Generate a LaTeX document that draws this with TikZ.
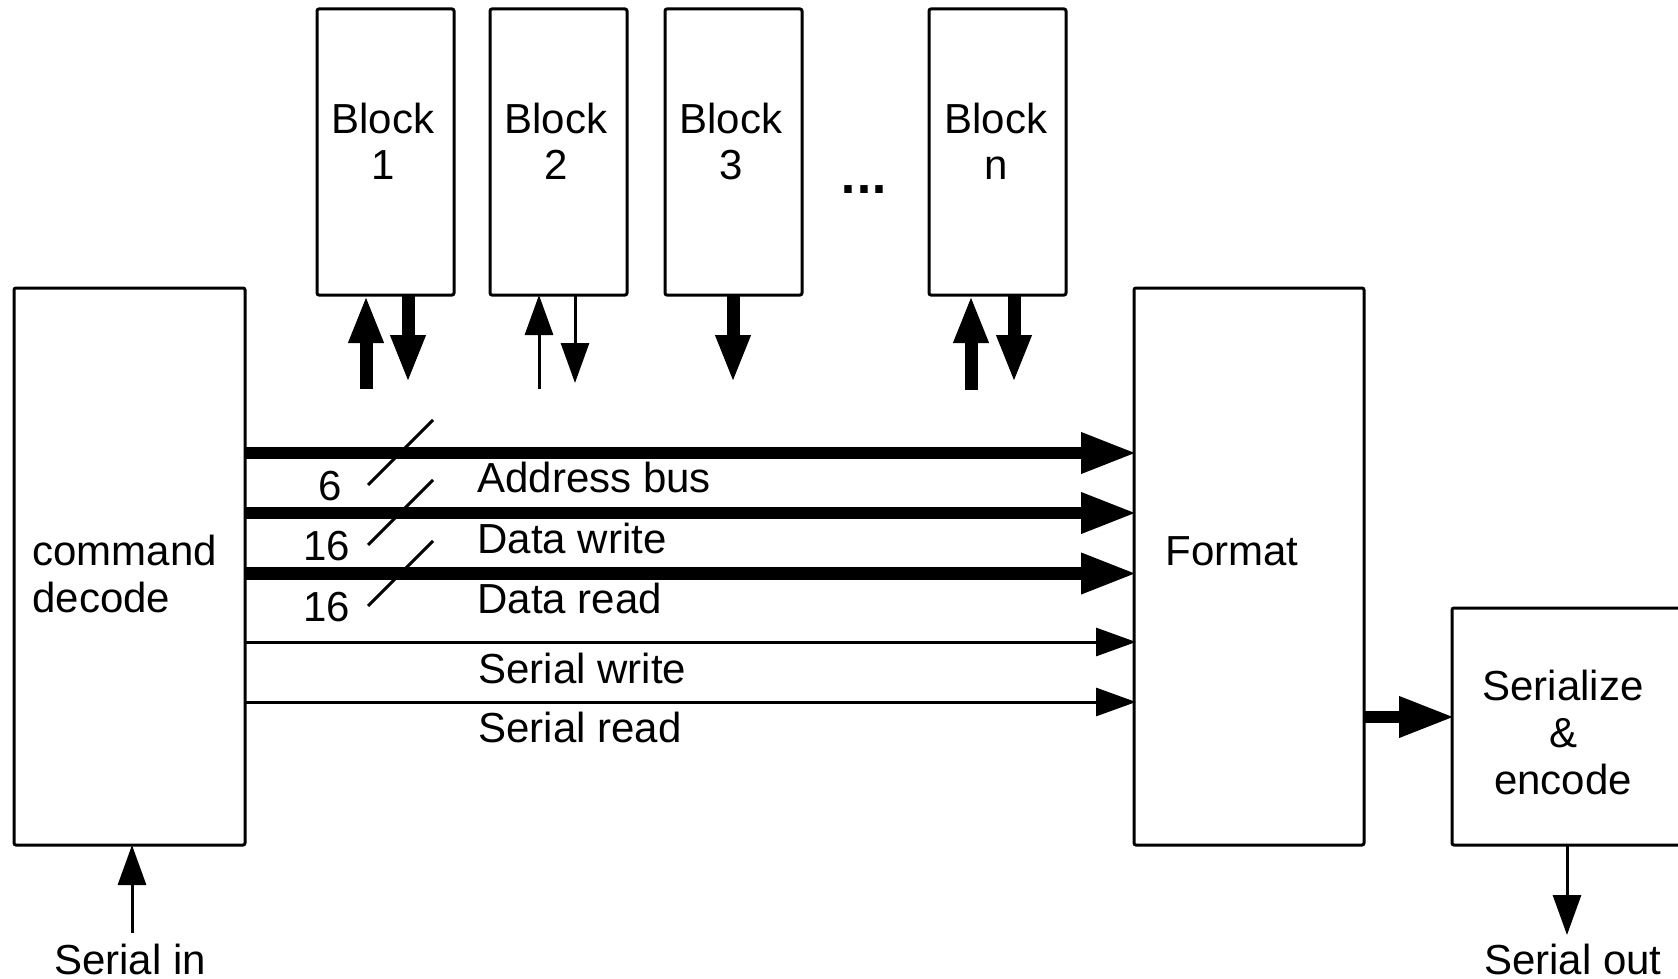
\documentclass[tikz,border=0pt]{standalone}
\usepackage{fontspec}
\setmainfont{Liberation Sans}
\newfontfamily\dotsfont{DejaVu Sans}
\usetikzlibrary{arrows.meta,calc}

\begin{document}
\begin{tikzpicture}[x=0.5pt,y=-0.5pt,
  box/.style={draw, line width=1.5pt, rectangle, inner sep=0pt, outer sep=0pt, rounded corners=1pt},
  txt/.style={inner sep=0pt, font=\fontsize{21}{23.5}\selectfont},
  bus/.style={line width=6.25pt, shorten >=-1.5pt, -{Triangle[length=28pt,width=19pt]}},
  vbus/.style={line width=6.5pt, -{Triangle[length=24pt,width=16pt]}},
  wire/.style={line width=1.5pt, -{Triangle[length=20pt,width=14pt]}},
  hwire/.style={wire, shorten >=-1pt},
  slash/.style={line width=1.5pt},
]
\useasboundingbox (0,0) rectangle (1678,979);

% main boxes
\node[box, minimum width=115.5pt, minimum height=278.5pt] (cmd) at (129.5,566.5) {};
\node[box, minimum width=115pt, minimum height=278.5pt] (fmt) at (1249,566.5) {};
\node[box, minimum width=115pt, minimum height=118.5pt] (ser) at (1567,726.5) {};

% memory blocks
\node[box, minimum width=68.5pt, minimum height=143pt] (b1) at (385.5,152) {};
\node[box, minimum width=68.5pt, minimum height=143pt] (b2) at (558.5,152) {};
\node[box, minimum width=68.5pt, minimum height=143pt] (b3) at (733.5,152) {};
\node[box, minimum width=68.5pt, minimum height=143pt] (bn) at (997.5,152) {};

% box labels (base anchor sits on the last line)
\node[txt, anchor=base, align=center] (b1t) at (383,180) {Block\\1};
\node[txt, anchor=base, align=center] (b2t) at (556,180) {Block\\2};
\node[txt, anchor=base, align=center] (b3t) at (731,180) {Block\\3};
\node[txt, anchor=base, align=center] (bnt) at (996,180) {Block\\n};
\node[txt, anchor=base, font=\dotsfont\fontsize{21}{23.5}\selectfont\bfseries] (dots) at (864,193) {...};
\node[txt, anchor=base west, align=left] (cmdt) at (32,612) {command\\decode};
\node[txt, anchor=base west] (fmtt) at (1165,565) {Format};
\node[txt, anchor=base, align=center] (sert) at (1563,794) {Serialize\\\&\\encode};

% bus rows between decoder and formatter
\coordinate (r1) at (0,453);
\coordinate (r2) at (0,513);
\coordinate (r3) at (0,573.5);
\coordinate (r4) at (0,642);
\coordinate (r5) at (0,702);
\draw[bus]   (r1 -| cmd.east) -- (r1 -| fmt.west);
\draw[bus]   (r2 -| cmd.east) -- (r2 -| fmt.west);
\draw[bus]   (r3 -| cmd.east) -- (r3 -| fmt.west);
\draw[hwire] (r4 -| cmd.east) -- (r4 -| fmt.west);
\draw[hwire] (r5 -| cmd.east) -- (r5 -| fmt.west);

% bus width marks
\draw[slash] (368,485) -- (433,420);
\draw[slash] (368,545) -- (433,480);
\draw[slash] (368,606) -- (433,541);
\node[txt, anchor=base] (w1) at (330,500) {6};
\node[txt, anchor=base] (w2) at (326.5,560) {16};
\node[txt, anchor=base] (w3) at (326.5,621) {16};

% bus names
\node[txt, anchor=base west] (l1) at (477,492) {Address bus};
\node[txt, anchor=base west] (l2) at (477,553) {Data write};
\node[txt, anchor=base west] (l3) at (477,613) {Data read};
\node[txt, anchor=base west] (l4) at (478,683) {Serial write};
\node[txt, anchor=base west] (l5) at (478,742) {Serial read};

% block ports
\coordinate (b1in) at (366,389);
\coordinate (b1out) at (408,383);
\coordinate (b2in) at (539,389);
\coordinate (b2out) at (575,383);
\coordinate (b3out) at (733,383);
\coordinate (bnin) at (971,390);
\coordinate (bnout) at (1014,383);
\draw[vbus] (b1in) -- (b1in |- b1.south);
\draw[vbus] (b1out |- b1.south) -- (b1out);
\draw[wire] (b2in) -- (b2in |- b2.south);
\draw[wire] (b2out |- b2.south) -- (b2out);
\draw[vbus] (b3out |- b3.south) -- (b3out);
\draw[vbus] (bnin) -- (bnin |- bn.south);
\draw[vbus] (bnout |- bn.south) -- (bnout);

% formatter to serializer
\coordinate (fs) at (0,717);
\draw[bus] (fs -| fmt.east) -- (fs -| ser.west);

% serial input and output
\coordinate (sin) at (132,933);
\coordinate (sout) at (1567,935);
\draw[wire] (sin) -- (sin |- cmd.south);
\draw[wire] (ser.south) -- (sout);
\node[txt, anchor=base] (sint) at (130,974) {Serial in};
\node[txt, anchor=base] (soutt) at (1573,974) {Serial out};
\end{tikzpicture}
\end{document}
